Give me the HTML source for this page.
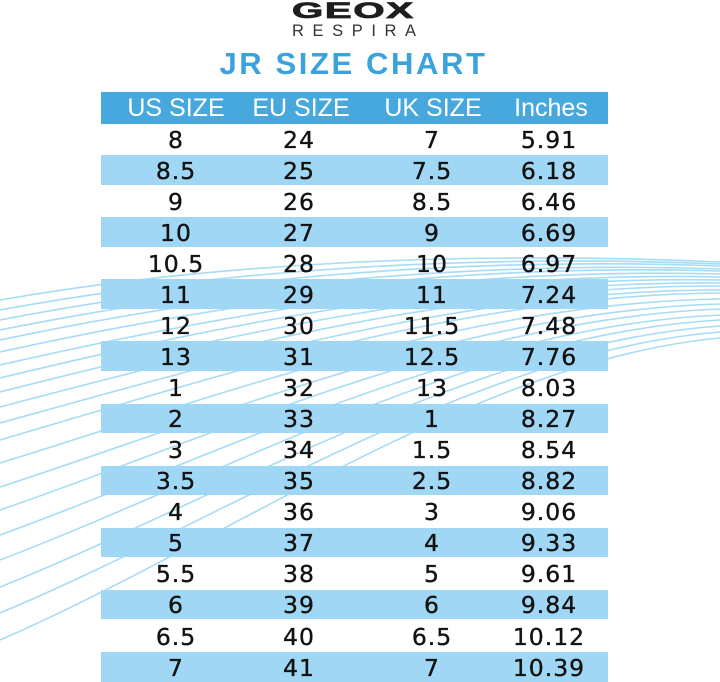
<!DOCTYPE html>
<html>
<head>
<meta charset="utf-8">
<style>
  html,body{margin:0;padding:0;background:#fff;}
  #wrap{position:relative;width:720px;height:682px;overflow:hidden;background:#fff;}
  svg.bg{position:absolute;left:0;top:0;}
  .logo{position:absolute;left:292px;top:-1px;width:124px;height:24px;}
  .logo span{position:absolute;left:0;top:0;font-family:"Liberation Sans",sans-serif;font-weight:bold;font-size:22.5px;letter-spacing:1px;color:#1e1e1e;-webkit-text-stroke:0.8px #1e1e1e;transform-origin:0 0;transform:scaleX(1.78);white-space:nowrap;line-height:24px;}
  .resp{position:absolute;left:292px;top:21px;font-family:"Liberation Sans",sans-serif;font-size:16.5px;letter-spacing:8.6px;color:#333;line-height:20px;white-space:nowrap;}
  .title{position:absolute;left:0;width:707px;top:46px;text-align:center;font-family:"Liberation Sans",sans-serif;font-weight:bold;font-size:31px;letter-spacing:2.6px;color:#3aa2dd;line-height:36px;}
  .hdr{position:absolute;left:101px;top:92px;width:507px;height:32px;background:#47a8de;}
  .band{position:absolute;left:101px;width:507px;height:29.5px;background:#9fd7f4;}
  .c{position:absolute;width:140px;text-align:center;white-space:nowrap;}
  .h{font-family:"Liberation Sans",sans-serif;font-size:25px;color:#fff;line-height:32px;top:92px;}
  .d{font-family:"DejaVu Sans",sans-serif;font-size:23.5px;letter-spacing:1px;color:#111;-webkit-text-stroke:0.35px #111;line-height:31px;}
</style>
</head>
<body>
<div id="wrap">
<svg class="bg" width="720" height="682" viewBox="0 0 720 682">
<g fill="none" stroke="#a6dcf5" stroke-width="1.6">
<path d="M0,300 C200,265 450,250 720,262"/>
<path d="M0,310 C201,273 451,253 720,264"/>
<path d="M0,320 C202,281 452,256 720,266"/>
<path d="M0,330 C203,289 453,260 720,269"/>
<path d="M0,340 C204,297 454,263 720,271"/>
<path d="M0,352 C205,307 455,267 720,274"/>
<path d="M0,365 C206,318 456,271 720,277"/>
<path d="M0,378 C207,328 457,275 720,280"/>
<path d="M0,392 C208,339 458,280 720,283"/>
<path d="M0,407 C209,352 459,285 720,286"/>
<path d="M0,423 C210,365 460,290 720,290"/>
<path d="M0,440 C212,378 462,295 720,293"/>
<path d="M0,463 C214,397 464,303 720,299"/>
<path d="M0,487 C216,417 466,311 720,304"/>
<path d="M0,510 C218,435 468,318 720,309"/>
<path d="M0,535 C221,455 471,326 720,315"/>
<path d="M0,560 C223,475 473,334 720,320"/>
<path d="M0,587 C225,497 475,343 720,326"/>
<path d="M0,613 C228,518 478,351 720,332"/>
<path d="M0,640 C230,540 480,360 720,338"/>
</g>
</svg>

<div class="logo"><span>GEOX</span></div>
<div class="resp">RESPIRA</div>
<div class="title">JR SIZE CHART</div>

<div class="hdr"></div>
<div class="c h" style="left:106px;">US SIZE</div>
<div class="c h" style="left:231px;">EU SIZE</div>
<div class="c h" style="left:363px;">UK SIZE</div>
<div class="c h" style="left:481px;">Inches</div>

<div class="band" style="top:155px"></div>
<div class="band" style="top:217.1px"></div>
<div class="band" style="top:279.2px"></div>
<div class="band" style="top:341.4px"></div>
<div class="band" style="top:403.5px"></div>
<div class="band" style="top:465.6px"></div>
<div class="band" style="top:527.7px"></div>
<div class="band" style="top:589.8px"></div>
<div class="band" style="top:652px"></div>

<div class="c d" style="left:106px;top:124.5px">8</div><div class="c d" style="left:229px;top:124.5px">24</div><div class="c d" style="left:362px;top:124.5px">7</div><div class="c d" style="left:479px;top:124.5px">5.91</div>
<div class="c d" style="left:106px;top:155.5px">8.5</div><div class="c d" style="left:229px;top:155.5px">25</div><div class="c d" style="left:362px;top:155.5px">7.5</div><div class="c d" style="left:479px;top:155.5px">6.18</div>
<div class="c d" style="left:106px;top:186.6px">9</div><div class="c d" style="left:229px;top:186.6px">26</div><div class="c d" style="left:362px;top:186.6px">8.5</div><div class="c d" style="left:479px;top:186.6px">6.46</div>
<div class="c d" style="left:106px;top:217.7px">10</div><div class="c d" style="left:229px;top:217.7px">27</div><div class="c d" style="left:362px;top:217.7px">9</div><div class="c d" style="left:479px;top:217.7px">6.69</div>
<div class="c d" style="left:106px;top:248.7px">10.5</div><div class="c d" style="left:229px;top:248.7px">28</div><div class="c d" style="left:362px;top:248.7px">10</div><div class="c d" style="left:479px;top:248.7px">6.97</div>
<div class="c d" style="left:106px;top:279.8px">11</div><div class="c d" style="left:229px;top:279.8px">29</div><div class="c d" style="left:362px;top:279.8px">11</div><div class="c d" style="left:479px;top:279.8px">7.24</div>
<div class="c d" style="left:106px;top:310.9px">12</div><div class="c d" style="left:229px;top:310.9px">30</div><div class="c d" style="left:362px;top:310.9px">11.5</div><div class="c d" style="left:479px;top:310.9px">7.48</div>
<div class="c d" style="left:106px;top:341.9px">13</div><div class="c d" style="left:229px;top:341.9px">31</div><div class="c d" style="left:362px;top:341.9px">12.5</div><div class="c d" style="left:479px;top:341.9px">7.76</div>
<div class="c d" style="left:106px;top:373px">1</div><div class="c d" style="left:229px;top:373px">32</div><div class="c d" style="left:362px;top:373px">13</div><div class="c d" style="left:479px;top:373px">8.03</div>
<div class="c d" style="left:106px;top:404px">2</div><div class="c d" style="left:229px;top:404px">33</div><div class="c d" style="left:362px;top:404px">1</div><div class="c d" style="left:479px;top:404px">8.27</div>
<div class="c d" style="left:106px;top:435.1px">3</div><div class="c d" style="left:229px;top:435.1px">34</div><div class="c d" style="left:362px;top:435.1px">1.5</div><div class="c d" style="left:479px;top:435.1px">8.54</div>
<div class="c d" style="left:106px;top:466.2px">3.5</div><div class="c d" style="left:229px;top:466.2px">35</div><div class="c d" style="left:362px;top:466.2px">2.5</div><div class="c d" style="left:479px;top:466.2px">8.82</div>
<div class="c d" style="left:106px;top:497.2px">4</div><div class="c d" style="left:229px;top:497.2px">36</div><div class="c d" style="left:362px;top:497.2px">3</div><div class="c d" style="left:479px;top:497.2px">9.06</div>
<div class="c d" style="left:106px;top:528.3px">5</div><div class="c d" style="left:229px;top:528.3px">37</div><div class="c d" style="left:362px;top:528.3px">4</div><div class="c d" style="left:479px;top:528.3px">9.33</div>
<div class="c d" style="left:106px;top:559.4px">5.5</div><div class="c d" style="left:229px;top:559.4px">38</div><div class="c d" style="left:362px;top:559.4px">5</div><div class="c d" style="left:479px;top:559.4px">9.61</div>
<div class="c d" style="left:106px;top:590.4px">6</div><div class="c d" style="left:229px;top:590.4px">39</div><div class="c d" style="left:362px;top:590.4px">6</div><div class="c d" style="left:479px;top:590.4px">9.84</div>
<div class="c d" style="left:106px;top:621.5px">6.5</div><div class="c d" style="left:229px;top:621.5px">40</div><div class="c d" style="left:362px;top:621.5px">6.5</div><div class="c d" style="left:479px;top:621.5px">10.12</div>
<div class="c d" style="left:106px;top:652.5px">7</div><div class="c d" style="left:229px;top:652.5px">41</div><div class="c d" style="left:362px;top:652.5px">7</div><div class="c d" style="left:479px;top:652.5px">10.39</div>
</div>
</body>
</html>
